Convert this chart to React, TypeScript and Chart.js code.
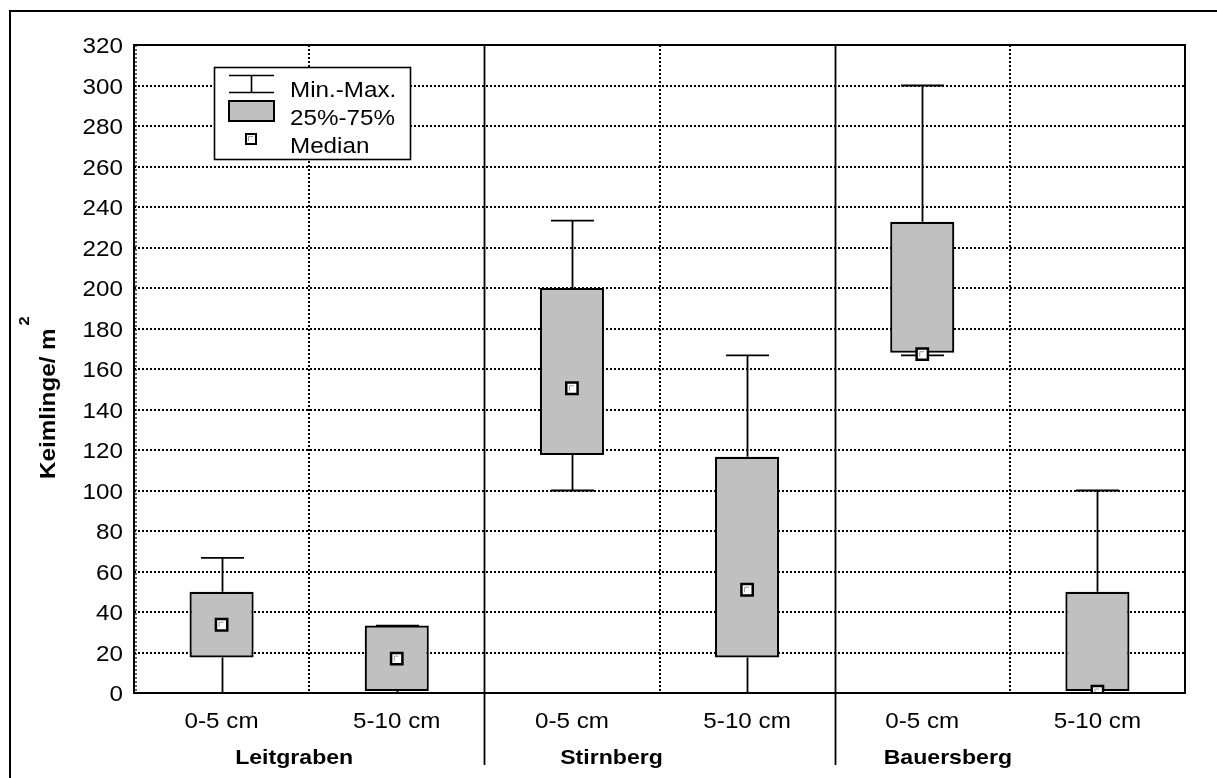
import React, { useEffect, useRef } from "react";
import { Chart, registerables } from "chart.js";

Chart.register(...registerables);

// ---- Data ----
const categories = ["0-5 cm", "5-10 cm", "0-5 cm", "5-10 cm", "0-5 cm", "5-10 cm"];
const groups = ["Leitgraben", "Stirnberg", "Bauersberg"];
const minValues = [0, 0, 100, 0, 166.7, 0];
const q1Values = [17.5, 1, 117.5, 17.5, 168, 1];
const medianValues = [33.7, 17, 150.5, 51, 167.3, 0.7];
const q3Values = [50, 33.3, 200, 116.7, 232.7, 50];
const maxValues = [66.7, 33.3, 233.3, 166.7, 300, 100];
const yMin = 0;
const yMax = 320;
const yStep = 20;
const yTitle = "Keimlinge/ m";
const yTitleSup = "2";
const legendLabels = ["Min.-Max.", "25%-75%", "Median"];

// ---- Layout / style ----
const W = 1217;
const H = 778;
const FONT = "'Liberation Sans', Arial, sans-serif";
const SX = 1.1; // horizontal text stretch
const BOX_FILL = "#c0c0c0";
const groupLabelOffsets = [-15, -48, -62];

function drawText(
  ctx: CanvasRenderingContext2D,
  text: string,
  x: number,
  y: number,
  font: string,
  align: CanvasTextAlign,
  rotate = false
) {
  ctx.save();
  ctx.translate(x, y);
  if (rotate) ctx.rotate(-Math.PI / 2);
  ctx.scale(SX, 1);
  ctx.font = font;
  ctx.textAlign = align;
  ctx.textBaseline = "alphabetic";
  ctx.fillStyle = "#000";
  ctx.fillText(text, 0, 0);
  ctx.restore();
}

const boxPlugin = {
  id: "boxPlugin",
  beforeDatasetsDraw(chart: any) {
    const { ctx, chartArea } = chart;
    const xs = chart.scales.x;
    const ys = chart.scales.y;
    const { left, right, top, bottom } = chartArea;
    ctx.save();
    // horizontal dotted grid
    ctx.strokeStyle = "#000";
    ctx.lineWidth = 2;
    ctx.setLineDash([2, 2]);
    ys.ticks.forEach((t: any) => {
      const y = Math.round(ys.getPixelForValue(t.value));
      if (t.value === yMin || t.value === yMax) return;
      ctx.beginPath();
      ctx.moveTo(left, y);
      ctx.lineTo(right, y);
      ctx.stroke();
    });
    // vertical dotted lines (between categories within a group)
    for (let i = 0; i < categories.length - 1; i++) {
      const x = (xs.getPixelForValue(i) + xs.getPixelForValue(i + 1)) / 2;
      if (i % 2 === 0) {
        ctx.beginPath();
        ctx.moveTo(Math.round(x), top);
        ctx.lineTo(Math.round(x), bottom);
        ctx.stroke();
      }
    }
    ctx.setLineDash([]);
    // whiskers
    ctx.lineWidth = 1.8;
    const capHalf = 21.5;
    categories.forEach((_, i) => {
      const x = Math.round(xs.getPixelForValue(i)) + 0.5;
      const yMinP = ys.getPixelForValue(minValues[i]);
      const yMaxP = ys.getPixelForValue(maxValues[i]);
      const yQ1 = ys.getPixelForValue(q1Values[i]);
      const yQ3 = ys.getPixelForValue(q3Values[i]);
      ctx.beginPath();
      ctx.moveTo(x, yQ3);
      ctx.lineTo(x, yMaxP);
      ctx.moveTo(x, yQ1);
      ctx.lineTo(x, yMinP);
      ctx.moveTo(x - capHalf, yMaxP);
      ctx.lineTo(x + capHalf, yMaxP);
      ctx.moveTo(x - capHalf, yMinP);
      ctx.lineTo(x + capHalf, yMinP);
      ctx.stroke();
    });
    ctx.restore();
  },
  afterDatasetsDraw(chart: any) {
    const { ctx, chartArea } = chart;
    const xs = chart.scales.x;
    const ys = chart.scales.y;
    const { left, right, top, bottom } = chartArea;
    ctx.save();
    // median inner shading
    categories.forEach((_, i) => {
      const x = xs.getPixelForValue(i);
      const y = ys.getPixelForValue(medianValues[i]);
      ctx.strokeStyle = "#9a9a9a";
      ctx.lineWidth = 1;
      ctx.beginPath();
      ctx.moveTo(x - 2.5, y + 2.5);
      ctx.lineTo(x - 2.5, y - 2.5);
      ctx.lineTo(x + 2, y - 2.5);
      ctx.stroke();
    });
    // plot frame
    ctx.strokeStyle = "#000";
    ctx.lineWidth = 2;
    ctx.beginPath();
    ctx.moveTo(left, top);
    ctx.lineTo(right, top);
    ctx.lineTo(right, bottom);
    ctx.lineTo(left, bottom);
    ctx.closePath();
    ctx.stroke();
    ctx.lineWidth = 1.2;
    ctx.setLineDash([2, 2]);
    ctx.beginPath();
    ctx.moveTo(left + 2, top);
    ctx.lineTo(left + 2, bottom);
    ctx.stroke();
    ctx.setLineDash([]);
    // group dividers (solid, extending below)
    ctx.lineWidth = 1.8;
    for (let g = 1; g < groups.length; g++) {
      const x = Math.round((xs.getPixelForValue(2 * g - 1) + xs.getPixelForValue(2 * g)) / 2) + 0.5;
      ctx.beginPath();
      ctx.moveTo(x, top);
      ctx.lineTo(x, 765);
      ctx.stroke();
    }
    // outer frame (left + top)
    ctx.lineWidth = 2;
    ctx.beginPath();
    ctx.moveTo(10, H);
    ctx.lineTo(10, 11);
    ctx.lineTo(W, 11);
    ctx.stroke();

    // y tick labels
    ys.ticks.forEach((t: any) => {
      const y = ys.getPixelForValue(t.value);
      drawText(ctx, String(t.value), 123, y + 8, `22px ${FONT}`, "right");
    });
    // x tick labels
    categories.forEach((c, i) => {
      drawText(ctx, c, xs.getPixelForValue(i), 728, `22px ${FONT}`, "center");
    });
    // group labels
    groups.forEach((g, gi) => {
      const cx = (xs.getPixelForValue(2 * gi) + xs.getPixelForValue(2 * gi + 1)) / 2;
      drawText(ctx, g, cx + groupLabelOffsets[gi], 764, `bold 21px ${FONT}`, "center");
    });
    // y title
    const tFont = `bold 22px ${FONT}`;
    ctx.font = tFont;
    const tw = ctx.measureText(yTitle).width * SX;
    const titleStartY = 479;
    drawText(ctx, yTitle, 55, titleStartY, tFont, "left", true);
    drawText(ctx, yTitleSup, 29, titleStartY - tw - 3, `bold 15px ${FONT}`, "left", true);

    // legend
    const lx = 214, ly = 67, lw = 196, lh = 92;
    ctx.fillStyle = "#fff";
    ctx.fillRect(lx, ly, lw, lh);
    ctx.strokeStyle = "#000";
    ctx.lineWidth = 1.6;
    ctx.strokeRect(lx + 0.5, ly + 0.5, lw, lh);
    // min-max icon
    ctx.beginPath();
    ctx.moveTo(229, 75.5);
    ctx.lineTo(274, 75.5);
    ctx.moveTo(229, 92.5);
    ctx.lineTo(274, 92.5);
    ctx.moveTo(251.5, 75.5);
    ctx.lineTo(251.5, 92.5);
    ctx.stroke();
    // box icon
    ctx.fillStyle = BOX_FILL;
    ctx.fillRect(229, 101, 45, 20);
    ctx.lineWidth = 2;
    ctx.strokeRect(229, 101, 45, 20);
    // median icon
    ctx.fillStyle = "#fff";
    ctx.fillRect(246, 134, 10, 10);
    ctx.strokeRect(246, 134, 10, 10);
    ctx.strokeStyle = "#9a9a9a";
    ctx.lineWidth = 1;
    ctx.beginPath();
    ctx.moveTo(248.5, 141);
    ctx.lineTo(248.5, 136.5);
    ctx.lineTo(253, 136.5);
    ctx.stroke();
    legendLabels.forEach((l, i) => {
      drawText(ctx, l, 290, 97 + i * 28, `22px ${FONT}`, "left");
    });
    ctx.restore();
  },
};

export default function App() {
  const ref = useRef<HTMLCanvasElement | null>(null);
  useEffect(() => {
    if (!ref.current) return;
    const chart = new Chart(ref.current, {
      type: "bar",
      data: {
        labels: categories,
        datasets: [
          {
            type: "line",
            label: "Median",
            data: medianValues,
            showLine: false,
            pointStyle: "rect",
            pointRadius: 8,
            pointBackgroundColor: "#fff",
            pointBorderColor: "#000",
            pointBorderWidth: 2.5,
            order: 0,
          } as any,
          {
            type: "bar",
            label: "25%-75%",
            data: categories.map((_, i) => [q1Values[i], q3Values[i]]),
            backgroundColor: BOX_FILL,
            borderColor: "#000",
            borderWidth: 2.2,
            borderSkipped: false,
            barPercentage: 0.366,
            categoryPercentage: 1,
            order: 1,
          } as any,
        ],
      },
      options: {
        responsive: false,
        animation: false,
        devicePixelRatio: 1,
        layout: { padding: { left: 134, top: 45, right: W - 1185, bottom: H - 693 } },
        plugins: { legend: { display: false }, tooltip: { enabled: false } },
        scales: {
          x: { type: "category", display: false, offset: true },
          y: { display: false, min: yMin, max: yMax, ticks: { stepSize: yStep } },
        },
      },
      plugins: [boxPlugin],
    });
    return () => chart.destroy();
  }, []);
  return (
    <div style={{ position: "fixed", left: 0, top: 0, width: W, height: H, background: "#fff" }}>
      <canvas ref={ref} width={W} height={H} style={{ width: W, height: H, display: "block" }} />
    </div>
  );
}
